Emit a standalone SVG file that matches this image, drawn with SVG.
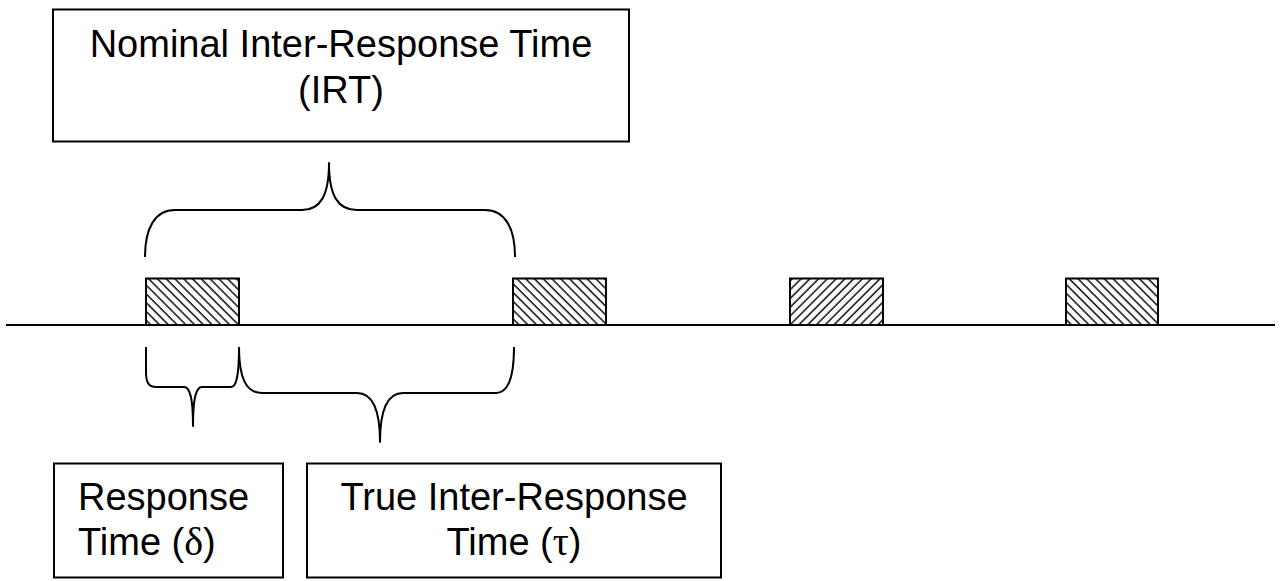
<svg xmlns="http://www.w3.org/2000/svg" width="1280" height="581" viewBox="0 0 1280 581">
<style>
.box{fill:#fff;stroke:#000;stroke-width:2}
.lbl{font-family:"Liberation Sans",Arial,sans-serif;font-size:38px;fill:#000}
.sym{font-family:"Liberation Serif","Times New Roman",serif;font-size:40px}
.mid{text-anchor:middle}
.brace{fill:none;stroke:#000;stroke-width:2;stroke-linejoin:round}
.hb{stroke:#000;stroke-width:2}
</style>
<defs>
<pattern id="hatchBack" width="6.2" height="12" patternUnits="userSpaceOnUse" patternTransform="rotate(-45)">
<line x1="1" y1="0" x2="1" y2="12" stroke="#000" stroke-width="1.4"/>
</pattern>
<pattern id="hatchFwd" width="6.2" height="12" patternUnits="userSpaceOnUse" patternTransform="rotate(45)">
<line x1="1" y1="0" x2="1" y2="12" stroke="#000" stroke-width="1.4"/>
</pattern>
</defs>
<rect width="1280" height="581" fill="#fff"/>

<g id="timeline">
<line x1="6" y1="325" x2="1275" y2="325" stroke="#000" stroke-width="2"/>
</g>

<g id="response1"><rect x="146" y="278.5" width="93" height="46.5" fill="url(#hatchBack)" class="hb"/></g>
<g id="response2"><rect x="513" y="278.5" width="93" height="46.5" fill="url(#hatchBack)" class="hb"/></g>
<g id="response3"><rect x="790" y="278.5" width="93" height="46.5" fill="url(#hatchFwd)" class="hb"/></g>
<g id="response4"><rect x="1066" y="278.5" width="92" height="46.5" fill="url(#hatchBack)" class="hb"/></g>

<g id="connectors">
<path class="brace" d="M145,257 C145,228 155,210 175,210 L302,210 C320,210 329,196 329,163 C329,196 338,210 357,210 L485,210 C505,210 515,228 515,257"/>
<path class="brace" d="M146,347 L146,372 C146,383 149,387 156,387 L184,387 C190,387 193,398 193,426 C193,398 196,387 202,387 L231,387 C236,387 239,378 239,347"/>
<path class="brace" d="M239,347 C239,378 246,393 262,393 L357,393 C372,393 380,408 380,442 C380,408 388,393 403,393 L496,393 C508,393 514,378 514,347"/>
</g>

<g id="nominal-irt">
<rect class="box" x="53" y="9.5" width="576" height="132"/>
<text class="lbl mid" x="341" y="57">Nominal Inter-Response Time</text>
<text class="lbl mid" x="341" y="103">(IRT)</text>
</g>

<g id="response-time">
<rect class="box" x="54" y="463.5" width="229" height="114"/>
<text class="lbl" x="78" y="510">Response</text>
<text class="lbl" x="78" y="555">Time (<tspan class="sym">δ</tspan>)</text>
</g>

<g id="true-irt">
<rect class="box" x="307" y="463.5" width="414" height="114"/>
<text class="lbl mid" x="514" y="510">True Inter-Response</text>
<text class="lbl mid" x="514" y="555">Time (<tspan class="sym">τ</tspan>)</text>
</g>
</svg>
